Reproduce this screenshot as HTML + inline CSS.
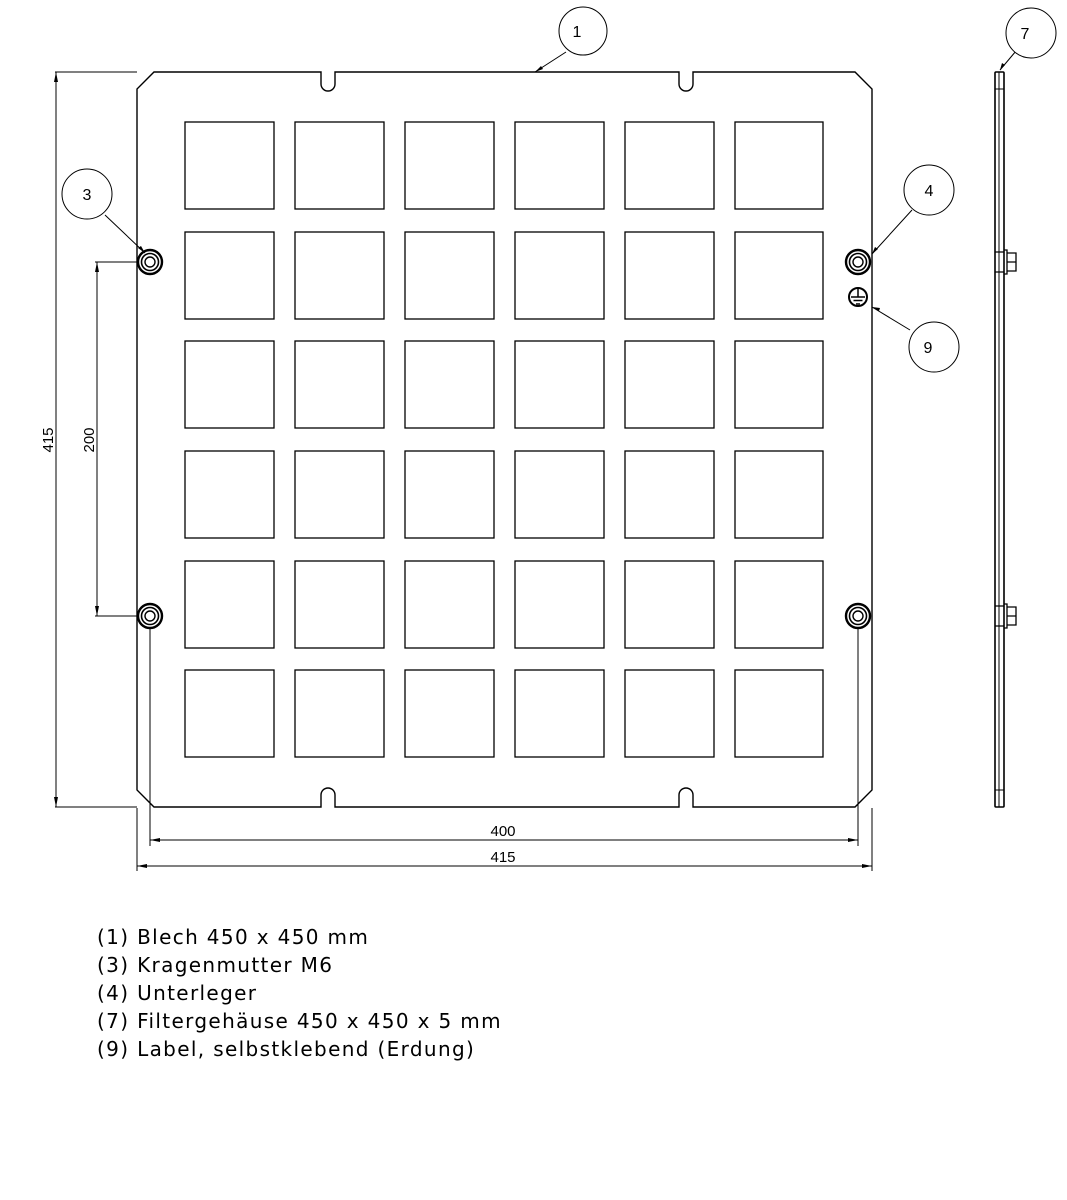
<!DOCTYPE html>
<html><head><meta charset="utf-8"><style>
html,body{margin:0;padding:0;background:#fff;}
.leg{position:absolute;left:97px;font-family:"DejaVu Sans","Liberation Sans",sans-serif;font-size:20px;letter-spacing:1.35px;color:#000;}
</style></head><body>
<div style="position:relative;width:1067px;height:1200px;overflow:hidden;">
<svg width="1067" height="1200" style="position:absolute;left:0;top:0" font-family="Liberation Sans, sans-serif">
<g fill="none" stroke="#000" stroke-width="1.4">
<path d="M154,72 H321 V84 A7,7 0 0 0 335,84 V72 H679 V84 A7,7 0 0 0 693,84 V72 H855 L872,89 V790 L855,807 H693 V795 A7,7 0 0 0 679,795 V807 H335 V795 A7,7 0 0 0 321,795 V807 H154 L137,790 V89 Z"/>
</g>
<g fill="none" stroke="#000" stroke-width="1.3">
<g id="row">
<rect x="185" y="122" width="89" height="87"/><rect x="295" y="122" width="89" height="87"/><rect x="405" y="122" width="89" height="87"/><rect x="515" y="122" width="89" height="87"/><rect x="625" y="122" width="89" height="87"/><rect x="735" y="122" width="88" height="87"/>
</g>
<use href="#row" y="110"/><use href="#row" y="219"/><use href="#row" y="329"/><use href="#row" y="439"/><use href="#row" y="548"/>
</g>
<g fill="none" stroke="#000">
<g id="nut"><circle cx="150" cy="262" r="12" fill="#fff" stroke-width="2.4"/><circle cx="150" cy="262" r="8.5" stroke-width="1.6"/><circle cx="150" cy="262" r="5" stroke-width="1.4"/></g>
<use href="#nut" x="708"/><use href="#nut" y="354"/><use href="#nut" x="708" y="354"/>
<circle cx="858" cy="297" r="9" stroke-width="2"/>
<path d="M858,289 V297 M851,297 H865 M853.5,300.5 H862.5 M856,304 H860" stroke-width="1.5"/>
</g>
<g fill="none" stroke="#000" stroke-width="1">
<path d="M55,72 H137 M55,807 H137 M56,72 V807"/>
<path d="M95,262 H137 M95,616 H137 M97,262 V616"/>
<path d="M150,628 V846 M858,628 V846 M150,840 H858"/>
<path d="M137,808 V871 M872,808 V871 M137,866 H872"/>
</g>
<g fill="#000">
<path d="M56,72 L54,82 L58,82Z M56,807 L54,797 L58,797Z"/>
<path d="M97,262 L95,272 L99,272Z M97,616 L95,606 L99,606Z"/>
<path d="M150,840 L160,838 L160,842Z M858,840 L848,838 L848,842Z"/>
<path d="M137,866 L147,864 L147,868Z M872,866 L862,864 L862,868Z"/>
</g>
<g font-size="15" fill="#000">
<text x="503" y="836" text-anchor="middle">400</text>
<text x="503" y="862" text-anchor="middle">415</text>
<text transform="translate(53,440) rotate(-90)" text-anchor="middle">415</text>
<text transform="translate(94,440) rotate(-90)" text-anchor="middle">200</text>
</g>
<g fill="#fff" stroke="#000" stroke-width="1">
<path d="M566,52 L535,72 M105,215 L145,253 M912,210 L872,254 M910,330 L872,307 M1016,51 L1000,70" fill="none"/>
<circle cx="583" cy="31" r="24"/><circle cx="87" cy="194" r="25"/><circle cx="929" cy="190" r="25"/><circle cx="934" cy="347" r="25"/><circle cx="1031" cy="33" r="25"/>
</g>
<g fill="#000"><path d="M535,72 L541,66 L543,69Z M145,253 L138,248 L141,246Z M872,254 L875,247 L878,249Z M872,307 L880,308 L879,311Z M1000,70 L1002,63 L1005,65Z"/></g>
<g font-size="16" fill="#000" text-anchor="middle">
<text x="577" y="37">1</text><text x="87" y="200">3</text><text x="929" y="196">4</text><text x="928" y="353">9</text><text x="1025" y="39">7</text>
</g>
<g fill="none" stroke="#000">
<rect x="995" y="72" width="9" height="735" rx="1" stroke-width="1.6"/>
<path d="M999,72 V807 M995,89 H1004 M995,790 H1004" stroke-width="1"/>
<path d="M995,252 H1004 M995,272 H1004 M1004,250 H1007 V274 H1004 M1007,253 H1016 V271 H1007 M1007,262 H1016" stroke-width="1.3"/>
<path d="M995,606 H1004 M995,626 H1004 M1004,604 H1007 V628 H1004 M1007,607 H1016 V625 H1007 M1007,616 H1016" stroke-width="1.3"/>
</g>
</svg>
<div class="leg" style="top:925px">(1) Blech 450 x 450 mm</div>
<div class="leg" style="top:953px">(3) Kragenmutter M6</div>
<div class="leg" style="top:981px">(4) Unterleger</div>
<div class="leg" style="top:1009px">(7) Filtergehäuse 450 x 450 x 5 mm</div>
<div class="leg" style="top:1037px">(9) Label, selbstklebend (Erdung)</div>
</div>
</body></html>
